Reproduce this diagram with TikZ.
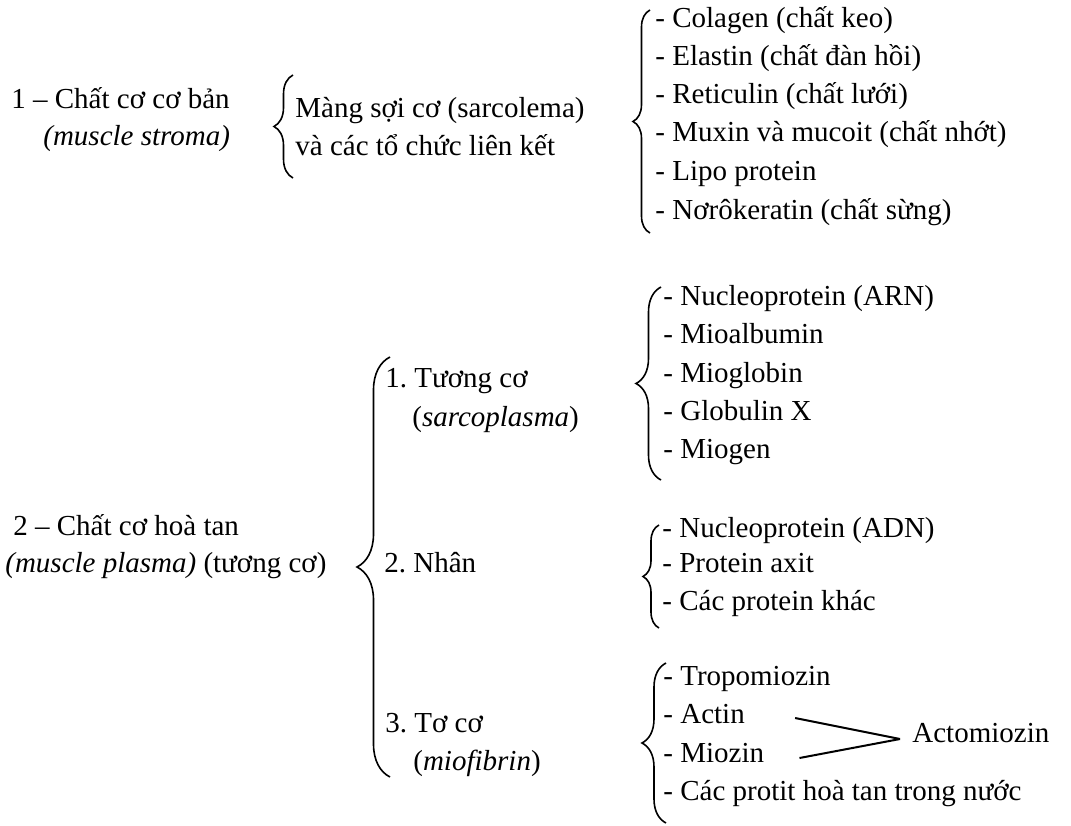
\documentclass[tikz,border=0pt]{standalone}
\usepackage{fontspec}
\setmainfont{Liberation Serif}
\usetikzlibrary{calc, positioning}
\usetikzlibrary{decorations.pathreplacing}

\tikzset{
  txt/.style={anchor=base west, inner sep=0pt, font=\fontsize{14.5}{17}\selectfont\frenchspacing},
  brc/.style={decorate, decoration={brace, amplitude=#1}, line width=0.8pt},
}

\begin{document}
\begin{tikzpicture}[x=0.5pt,y=-0.5pt]
\useasboundingbox (0,0) rectangle (1071,825);
% 1 - chat co co ban
\node[txt] (s1) at (11,108) {1 – Chất cơ cơ bản};
\node[txt] (s1en) at (43,145) {\textit{(muscle stroma)}};
\draw[brc=9.5pt] (293,178) -- (293,75);
\node[txt] (m1) at (295,117) {Màng sợi cơ (sarcolema)};
\node[txt] (m2) at (295,155) {và các tổ chức liên kết};
\draw[brc=8.5pt] (650,233) -- (650,10);
\node[txt] (c1) at (655,27) {- Colagen (chất keo)};
\node[txt] (c2) at (655,65) {- Elastin (chất đàn hồi)};
\node[txt] (c3) at (655,103) {- Reticulin (chất lưới)};
\node[txt] (c4) at (655,141) {- Muxin và mucoit (chất nhớt)};
\node[txt] (c5) at (655,180) {- Lipo protein};
\node[txt] (c6) at (655,219) {- Nơrôkeratin (chất sừng)};
% 2 - chat co hoa tan
\node[txt] (s2) at (13,535) {2 – Chất cơ hoà tan};
\node[txt] (s2en) at (5,572) {\textit{(muscle plasma)} (tương cơ)};
\draw[brc=16.5pt] (390,777) -- (390,357);
\node[txt] (t1) at (385,387) {1. Tương cơ};
\node[txt] (t1en) at (412,426) {(\textit{sarcoplasma})};
\node[txt] (t2) at (384,572) {2. Nhân};
\node[txt] (t3) at (385,732) {3. Tơ cơ};
\node[txt] (t3en) at (413,770) {(\textit{miofibrin})};
% tuong co
\draw[brc=12.5pt] (661,480) -- (661,287);
\node[txt] (p1) at (663,305) {- Nucleoprotein (ARN)};
\node[txt] (p2) at (663,343) {- Mioalbumin};
\node[txt] (p3) at (663,382) {- Mioglobin};
\node[txt] (p4) at (663,420) {- Globulin X};
\node[txt] (p5) at (663,458) {- Miogen};
% nhan
\draw[brc=8pt] (659,628) -- (659,525);
\node[txt] (n1) at (662,537) {- Nucleoprotein (ADN)};
\node[txt] (n2) at (662,572) {- Protein axit};
\node[txt] (n3) at (662,610) {- Các protein khác};
% to co
\draw[brc=12pt] (666,823) -- (666,663);
\node[txt] (f1) at (663,685) {- Tropomiozin};
\node[txt] (f2) at (663,723) {- Actin};
\node[txt] (f3) at (663,762) {- Miozin};
\node[txt] (f4) at (663,800) {- Các protit hoà tan trong nước};
\node[txt] (acto) at (912,742) {Actomiozin};
\coordinate (meet) at ($(acto.base west)+(-12,-3)$);
\draw[line width=1pt] ($(f2.base east)+(50,-5)$) -- (meet);
\draw[line width=1pt] ($(f3.base east)+(35,-4)$) -- (meet);
\end{tikzpicture}
\end{document}
